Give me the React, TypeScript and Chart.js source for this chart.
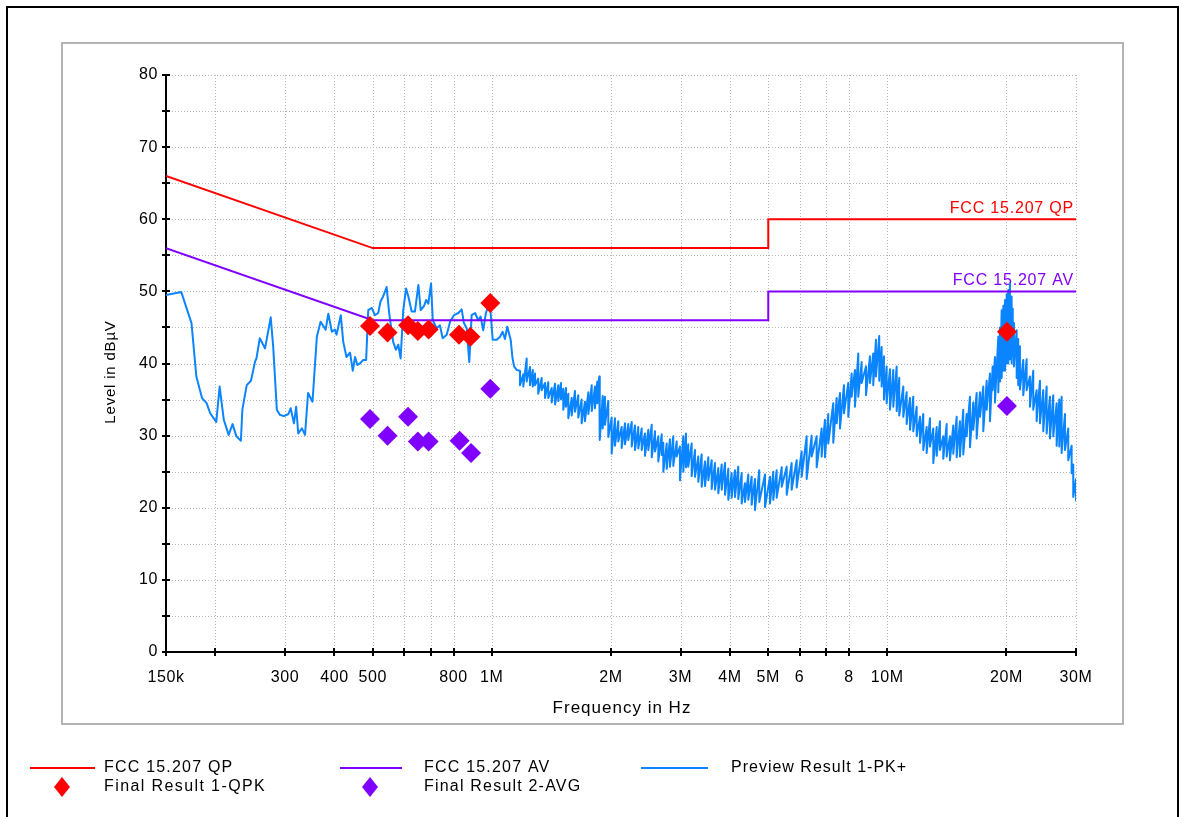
import React, { useEffect, useRef } from 'react';
import { Chart, registerables } from 'chart.js';

Chart.register(...registerables);

const FONT = '"Liberation Sans", Arial, Helvetica, sans-serif';
const RED = '#ff0000';
const PURPLE = '#8000ff';
const BLUE = '#0a84ff';

// Axis ticks (frequency in MHz, level in dBµV)
const xTickFreqs = [0.15, 0.2, 0.3, 0.4, 0.5, 0.6, 0.7, 0.8, 1, 2, 3, 4, 5, 6, 7, 8, 10, 20, 30];
const xTickLabels = ['150k', '', '300', '400', '500', '', '', '800', '1M', '2M', '3M', '4M', '5M', '6', '', '8', '10M', '20M', '30M'];
const yTickValues = [0, 10, 20, 30, 40, 50, 60, 70, 80];
const yMinorValues = [5, 15, 25, 35, 45, 55, 65, 75];

// FCC 15.207 conducted limits
const limitFreq = [0.15, 0.5, 5, 5, 30];
const qpLimit = [66, 56, 56, 60, 60];
const avLimit = [56, 46, 46, 50, 50];

// Final measurements
const qpkFreq = [0.492, 0.545, 0.614, 0.65, 0.692, 0.826, 0.883, 0.991, 20.07];
const qpkLevel = [45.2, 44.3, 45.3, 44.5, 44.7, 44.0, 43.7, 48.4, 44.4];
const avgFreq = [0.492, 0.545, 0.614, 0.65, 0.692, 0.829, 0.886, 0.991, 20.07];
const avgLevel = [32.3, 30.0, 32.6, 29.2, 29.2, 29.3, 27.6, 36.5, 34.1];

// Preview scan, peak detector, low band: [MHz, dBµV]
const previewLow: [number, number][] = [
  [0.150, 49.5], [0.164, 49.9], [0.174, 45.6], [0.179, 38.2], [0.185, 35.2], [0.190, 34.5], [0.194, 33.1], [0.201, 31.9],
  [0.205, 36.8], [0.210, 32.2], [0.216, 30.1], [0.221, 31.6], [0.226, 29.9], [0.232, 29.3], [0.234, 33.6], [0.240, 37.0],
  [0.246, 37.6], [0.252, 40.3], [0.254, 40.7], [0.259, 43.5], [0.267, 42.1], [0.276, 46.4], [0.280, 42.3], [0.286, 33.6],
  [0.291, 32.9], [0.298, 32.7], [0.306, 33.0], [0.310, 33.8], [0.316, 31.7], [0.320, 34.0], [0.324, 30.3], [0.331, 31.0],
  [0.337, 30.1], [0.343, 35.9], [0.352, 34.7], [0.361, 43.7], [0.369, 45.8], [0.380, 44.7], [0.386, 46.9], [0.394, 44.4],
  [0.401, 44.7], [0.405, 44.0], [0.415, 46.7], [0.421, 43.0], [0.429, 40.9], [0.438, 41.5], [0.445, 39.0], [0.451, 40.9],
  [0.457, 39.8], [0.464, 40.0], [0.473, 40.5], [0.481, 40.5], [0.487, 47.4], [0.497, 47.7], [0.506, 46.7], [0.516, 47.0],
  [0.523, 48.6], [0.531, 49.3], [0.542, 50.6], [0.550, 47.0], [0.563, 43.0], [0.572, 41.9], [0.580, 42.6], [0.588, 40.7],
  [0.597, 47.4], [0.607, 50.4], [0.615, 49.3], [0.627, 47.2], [0.639, 47.2], [0.652, 50.9], [0.661, 47.4], [0.674, 48.0],
  [0.682, 48.8], [0.691, 48.3], [0.702, 51.1], [0.709, 46.0], [0.725, 44.9], [0.739, 45.3], [0.751, 43.5], [0.769, 44.0],
  [0.784, 45.8], [0.802, 46.7], [0.823, 47.0], [0.839, 47.5], [0.850, 45.6], [0.864, 44.9], [0.877, 40.2], [0.889, 46.7],
  [0.907, 47.0], [0.924, 46.0], [0.937, 46.5], [0.951, 44.6], [0.966, 47.0], [0.985, 48.3], [0.993, 47.0], [1.005, 43.3],
  [1.029, 43.3], [1.049, 43.7], [1.065, 44.4], [1.079, 43.4], [1.094, 45.1], [1.116, 43.3], [1.127, 40.9], [1.138, 39.6],
  [1.156, 39.1],
];

// Preview scan above 1.17 MHz, per frequency bin: [MHz, max dBµV, min dBµV]
const previewBand: [number, number, number][] = [
  [1.178, 39.0, 37.0], [1.201, 38.5, 36.8], [1.225, 40.7, 37.5], [1.249, 39.5, 37.0], [1.269, 39.1, 36.8], [1.286, 38.6, 37.0],
  [1.310, 37.9, 35.8], [1.337, 38.0, 36.3], [1.363, 37.3, 35.2], [1.389, 37.4, 35.2], [1.417, 36.6, 34.6], [1.445, 37.2, 34.3],
  [1.472, 37.0, 34.8], [1.496, 37.3, 35.0], [1.516, 36.5, 33.6], [1.540, 36.6, 34.0], [1.561, 35.8, 32.4], [1.592, 35.2, 32.8],
  [1.623, 36.2, 33.3], [1.654, 35.6, 32.5], [1.687, 35.0, 31.7], [1.720, 34.7, 32.0], [1.754, 36.0, 33.0], [1.789, 37.0, 33.4],
  [1.823, 36.8, 33.8], [1.848, 37.5, 34.5], [1.869, 38.2, 35.0], [1.877, 34.0, 29.4], [1.907, 35.5, 31.0], [1.932, 35.4, 31.5],
  [1.970, 34.8, 29.8], [2.009, 32.5, 27.5], [2.048, 32.4, 28.6], [2.088, 32.0, 29.2], [2.130, 31.2, 28.3], [2.171, 31.7, 28.8],
  [2.213, 31.6, 29.4], [2.258, 31.9, 28.5], [2.301, 31.4, 28.0], [2.346, 31.2, 28.2], [2.393, 31.0, 28.0], [2.439, 30.3, 27.2],
  [2.487, 30.8, 28.0], [2.537, 31.5, 27.0], [2.586, 30.6, 27.8], [2.636, 29.9, 26.4], [2.689, 30.2, 27.3], [2.714, 29.0, 25.0],
  [2.768, 28.9, 25.4], [2.821, 29.5, 25.7], [2.876, 29.9, 25.8], [2.934, 29.2, 27.1], [2.990, 28.5, 23.8], [3.049, 29.9, 25.0],
  [3.097, 30.3, 25.6], [3.138, 28.8, 25.7], [3.201, 28.9, 24.4], [3.263, 28.0, 24.3], [3.327, 27.1, 23.6], [3.393, 27.4, 22.9],
  [3.459, 26.4, 23.0], [3.527, 27.0, 23.8], [3.597, 26.6, 22.6], [3.666, 26.2, 22.5], [3.738, 25.5, 22.0], [3.813, 26.0, 22.5],
  [3.887, 26.2, 21.8], [3.962, 25.4, 21.1], [4.041, 24.8, 21.4], [4.119, 25.2, 21.5], [4.199, 25.7, 21.2], [4.283, 24.8, 20.6],
  [4.366, 23.4, 20.8], [4.451, 24.6, 21.1], [4.539, 24.3, 20.4], [4.628, 24.0, 19.7], [4.745, 25.2, 20.8], [4.906, 24.6, 20.1],
  [5.051, 24.3, 20.6], [5.148, 25.0, 21.1], [5.251, 25.2, 21.4], [5.408, 25.6, 22.9], [5.567, 25.7, 21.8], [5.729, 26.2, 22.5],
  [5.900, 26.6, 22.8], [6.074, 27.8, 24.3], [6.253, 29.9, 24.0], [6.437, 30.0, 27.1], [6.628, 29.9, 25.6], [6.823, 31.0, 27.1],
  [6.955, 32.2, 27.0], [7.091, 33.0, 28.9], [7.300, 34.5, 29.0], [7.446, 35.2, 31.7], [7.591, 35.9, 31.0], [7.770, 37.0, 33.1],
  [7.967, 37.3, 32.6], [8.126, 38.6, 35.4], [8.283, 39.1, 34.0], [8.445, 41.4, 35.4], [8.612, 40.2, 37.3], [8.833, 39.6, 35.6],
  [9.038, 41.0, 37.3], [9.215, 41.4, 37.0], [9.360, 43.3, 38.2], [9.541, 43.8, 37.6], [9.676, 42.3, 36.8], [9.806, 41.0, 35.0],
  [9.961, 39.6, 34.5], [10.156, 39.2, 33.6], [10.354, 39.1, 34.0], [10.561, 39.6, 33.4], [10.720, 38.0, 32.8], [10.974, 36.8, 32.6],
  [11.192, 36.0, 31.6], [11.411, 35.2, 30.8], [11.631, 35.4, 30.6], [11.864, 34.0, 29.9], [12.095, 32.6, 29.0], [12.329, 33.0, 28.0],
  [12.575, 31.2, 27.6], [12.819, 32.4, 28.5], [13.069, 31.0, 26.2], [13.331, 31.2, 27.2], [13.586, 32.0, 28.0], [13.851, 29.9, 26.8],
  [14.128, 31.6, 27.1], [14.401, 29.9, 26.6], [14.682, 31.4, 27.5], [14.976, 32.6, 27.0], [15.264, 32.0, 27.1], [15.562, 33.6, 27.4],
  [15.870, 33.0, 29.9], [16.181, 35.4, 28.4], [16.494, 34.6, 30.8], [16.824, 35.9, 29.6], [17.152, 36.0, 32.6], [17.484, 36.8, 30.6],
  [17.834, 37.6, 33.6], [18.179, 38.6, 32.0], [18.469, 39.6, 36.3], [18.718, 40.9, 34.6], [19.080, 43.7, 36.0], [19.270, 45.0, 37.5],
  [19.462, 47.4, 38.0], [19.650, 48.0, 39.0], [19.842, 48.8, 39.0], [20.040, 49.6, 40.0], [20.226, 50.2, 40.0], [20.421, 51.1, 40.6],
  [20.625, 49.3, 40.0], [20.760, 47.6, 41.0], [20.903, 45.6, 39.6], [21.237, 44.6, 38.0], [21.430, 43.4, 37.0], [21.646, 42.4, 36.4],
  [22.069, 40.5, 35.6], [22.506, 40.6, 36.3], [22.945, 38.2, 34.0], [23.390, 39.0, 33.6], [23.856, 36.3, 32.0], [24.322, 37.6, 31.7],
  [24.792, 36.3, 30.6], [25.288, 36.8, 30.3], [25.776, 35.4, 29.6], [26.279, 35.6, 29.9], [26.805, 34.5, 28.6], [27.216, 35.0, 28.5],
  [27.594, 35.4, 27.6], [28.132, 33.0, 28.0], [28.676, 31.0, 26.6], [29.247, 28.6, 24.8], [29.524, 26.0, 21.5], [30.000, 24.0, 21.0],
];

type Ctx = CanvasRenderingContext2D;

function line(ctx: Ctx, x1: number, y1: number, x2: number, y2: number) {
  ctx.beginPath();
  ctx.moveTo(x1, y1);
  ctx.lineTo(x2, y2);
  ctx.stroke();
}

function text(ctx: Ctx, s: string, x: number, y: number, size: number, color: string, align: CanvasTextAlign, spacing = 0.8) {
  ctx.font = `${size}px ${FONT}`;
  (ctx as any).letterSpacing = `${spacing}px`;
  ctx.fillStyle = color;
  ctx.textAlign = align;
  ctx.textBaseline = 'middle';
  ctx.fillText(s, x, y);
}

function diamond(ctx: Ctx, x: number, y: number, hw: number, hh: number, color: string) {
  ctx.fillStyle = color;
  ctx.beginPath();
  ctx.moveTo(x, y - hh);
  ctx.lineTo(x + hw, y);
  ctx.lineTo(x, y + hh);
  ctx.lineTo(x - hw, y);
  ctx.closePath();
  ctx.fill();
}

const emiFrame = {
  id: 'emiFrame',
  beforeDraw(chart: any) {
    const { ctx, width, height } = chart;
    ctx.save();
    ctx.fillStyle = '#ffffff';
    ctx.fillRect(0, 0, width, height);
    // outer frame
    ctx.strokeStyle = '#000000';
    ctx.lineWidth = 2;
    ctx.beginPath();
    ctx.moveTo(7, height + 5);
    ctx.lineTo(7, 7);
    ctx.lineTo(1178, 7);
    ctx.lineTo(1178, height + 5);
    ctx.stroke();
    // diagram panel
    ctx.strokeStyle = '#b4b4b4';
    ctx.lineWidth = 2;
    ctx.strokeRect(62, 43, 1061, 681);
    ctx.restore();
  },
  beforeDatasetsDraw(chart: any) {
    const { ctx, chartArea } = chart;
    const { left, right, top, bottom } = chartArea;
    const xs = chart.scales.x;
    const ys = chart.scales.y;
    ctx.save();

    // dotted grid
    ctx.strokeStyle = '#b8b8b8';
    ctx.lineWidth = 1;
    ctx.setLineDash([1, 2]);
    for (const v of [...yTickValues, ...yMinorValues]) {
      if (v === 0) continue;
      const y = Math.round(ys.getPixelForValue(v)) + 0.5;
      line(ctx, left, y, right, y);
    }
    for (const f of xTickFreqs) {
      if (f === xTickFreqs[0]) continue;
      const x = Math.round(xs.getPixelForValue(f)) + 0.5;
      line(ctx, x, top, x, bottom);
    }
    ctx.setLineDash([]);

    // axes and tick marks
    ctx.strokeStyle = '#000000';
    ctx.lineWidth = 2;
    line(ctx, left, top, left, bottom + 1);
    line(ctx, left - 1, bottom, right, bottom);
    for (const v of [...yTickValues, ...yMinorValues]) {
      const y = Math.round(ys.getPixelForValue(v));
      line(ctx, left - 4, y, left + 4, y);
    }
    for (const f of xTickFreqs) {
      const x = Math.round(xs.getPixelForValue(f));
      line(ctx, x, bottom - 4, x, bottom + 4);
    }

    // tick labels
    for (const v of yTickValues) {
      text(ctx, String(v), left - 8, ys.getPixelForValue(v), 16, '#000', 'right', 0.6);
    }
    xTickFreqs.forEach((f, i) => {
      if (!xTickLabels[i]) return;
      text(ctx, xTickLabels[i], xs.getPixelForValue(f), bottom + 26, 16, '#000', 'center', 0.6);
    });

    // axis titles
    text(ctx, 'Frequency in Hz', (left + right) / 2 + 1, 708, 17, '#000', 'center', 1);
    ctx.save();
    ctx.translate(111, 372);
    ctx.rotate(-Math.PI / 2);
    text(ctx, 'Level in dBµV', 0, 0, 15, '#000', 'center', 0.8);
    ctx.restore();

    // limit line captions
    text(ctx, 'FCC 15.207 QP', right - 2, ys.getPixelForValue(qpLimit[4]) - 11, 16, RED, 'right', 0.8);
    text(ctx, 'FCC 15.207 AV', right - 2, ys.getPixelForValue(avLimit[4]) - 11, 16, PURPLE, 'right', 0.8);

    ctx.restore();
  },
  afterDraw(chart: any) {
    const { ctx } = chart;
    ctx.save();
    const r1 = 768;
    const r2 = 787;
    ctx.lineWidth = 2;
    ctx.strokeStyle = RED;
    line(ctx, 30, r1, 95, r1);
    ctx.strokeStyle = PURPLE;
    line(ctx, 340, r1, 402, r1);
    ctx.strokeStyle = BLUE;
    line(ctx, 641, r1, 708, r1);
    diamond(ctx, 62, r2, 8, 10, RED);
    diamond(ctx, 370, r2, 8, 10, PURPLE);
    text(ctx, 'FCC 15.207 QP', 104, r1, 16, '#000', 'left', 1.2);
    text(ctx, 'FCC 15.207 AV', 424, r1, 16, '#000', 'left', 1.2);
    text(ctx, 'Preview Result 1-PK+', 731, r1, 16, '#000', 'left', 1.0);
    text(ctx, 'Final Result 1-QPK', 104, r2, 16, '#000', 'left', 1.4);
    text(ctx, 'Final Result 2-AVG', 424, r2, 16, '#000', 'left', 1.2);
    ctx.restore();
  },
};

export default function App() {
  const canvasRef = useRef<HTMLCanvasElement | null>(null);

  useEffect(() => {
    const canvas = canvasRef.current;
    if (!canvas) return;
    const pts = (f: number[], l: number[]) => f.map((x, i) => ({ x, y: l[i] }));
    // low band as a plain line, upper band as max/min pairs per bin
    const previewData = [
      ...previewLow.map(([x, y]) => ({ x, y })),
      ...previewBand.flatMap(([x, hi, lo]) => [{ x, y: hi }, { x, y: lo }]),
    ];
    const chart = new Chart(canvas, {
      type: 'line',
      data: {
        datasets: [
          {
            label: 'Final Result 1-QPK',
            data: pts(qpkFreq, qpkLevel),
            showLine: false,
            pointStyle: 'rectRot',
            pointRadius: 10,
            pointBackgroundColor: RED,
            pointBorderWidth: 0,
            borderColor: RED,
            order: 1,
          },
          {
            label: 'Final Result 2-AVG',
            data: pts(avgFreq, avgLevel),
            showLine: false,
            pointStyle: 'rectRot',
            pointRadius: 10,
            pointBackgroundColor: PURPLE,
            pointBorderWidth: 0,
            borderColor: PURPLE,
            order: 1,
          },
          {
            label: 'FCC 15.207 QP',
            data: pts(limitFreq, qpLimit),
            borderColor: RED,
            borderWidth: 2,
            pointRadius: 0,
            order: 2,
          },
          {
            label: 'FCC 15.207 AV',
            data: pts(limitFreq, avLimit),
            borderColor: PURPLE,
            borderWidth: 2,
            pointRadius: 0,
            order: 2,
          },
          {
            label: 'Preview Result 1-PK+',
            data: previewData,
            borderColor: BLUE,
            borderWidth: 2,
            borderJoinStyle: 'round',
            pointRadius: 0,
            order: 3,
          },
        ],
      },
      options: {
        animation: false,
        responsive: false,
        devicePixelRatio: 1,
        events: [],
        layout: { padding: { left: 166, top: 75, right: 103, bottom: 165 } },
        scales: {
          x: { type: 'logarithmic', min: 0.15, max: 30, display: false },
          y: { type: 'linear', min: 0, max: 80, display: false },
        },
        plugins: {
          legend: { display: false },
          tooltip: { enabled: false },
        },
      },
      plugins: [emiFrame],
    } as any);
    return () => chart.destroy();
  }, []);

  return (
    <div style={{ position: 'absolute', left: 0, top: 0, width: 1179, height: 817, background: '#fff' }}>
      <canvas ref={canvasRef} width={1179} height={817} style={{ display: 'block', width: 1179, height: 817 }} />
    </div>
  );
}
